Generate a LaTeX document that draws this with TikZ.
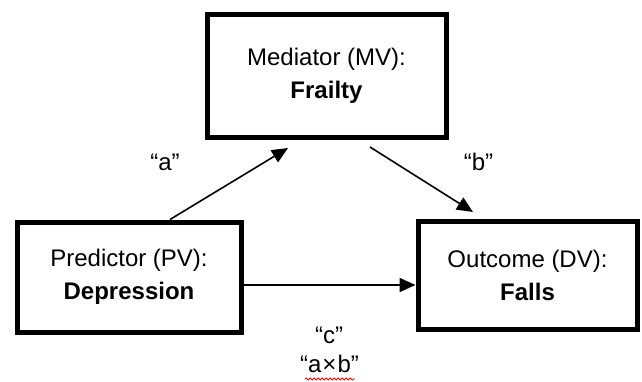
\documentclass[tikz,border=0pt]{standalone}
\usepackage{fontspec}
\setmainfont{Liberation Sans}
\usetikzlibrary{positioning,arrows.meta,decorations.pathmorphing}
\begin{document}
\begin{tikzpicture}[x=1pt, y=-1pt, node distance=201.5pt]

    % Styles des noeuds
    \tikzstyle{varbox} = [rectangle, line width=5pt, draw=black, align=center, font=\fontsize{24}{33}\selectfont]
    \tikzstyle{coef} = [anchor=base, inner sep=0pt, font=\fontsize{24}{29}\selectfont]
    \tikzstyle{arrow} = [line width=1.6pt, -{Triangle[length=16pt, width=14pt]}]
    \tikzstyle{souligne} = [red, line width=0.8pt, decorate, decoration={snake, amplitude=1pt, segment length=4pt}]

    \useasboundingbox (0,0) rectangle (642,381);

    % Noeuds
    \node (mediator) [varbox, minimum width=239pt, minimum height=123pt] at (326.5,75.5) {Mediator (MV):\\ \textbf{Frailty}};
    \node (predictor) [varbox, minimum width=224pt, minimum height=110pt, below of=mediator, xshift=-197.5pt] {Predictor (PV):\\ \textbf{Depression}};
    \node (outcome) [varbox, minimum width=219pt, minimum height=108pt, below of=mediator, xshift=201pt, yshift=2pt] {Outcome (DV):\\ \textbf{Falls}};

    % Flèches
    \draw [arrow, shorten >=16.4pt] ([xshift=41pt]predictor.north) -- ([xshift=-24.5pt]mediator.south);
    \draw [arrow, shorten <=14pt, shorten >=12.2pt] ([xshift=31.6pt]mediator.south) -- ([xshift=-44.2pt]outcome.north);
    \draw [arrow] ([yshift=-8pt]predictor.east) -- ([yshift=-8pt]predictor.east -| outcome.west);

    % Annotations
    \node (a) [coef] at (165,170) {“a”};
    \node (b) [coef] at (478.5,170) {“b”};
    \node (c) [coef] at (329,343) {“c”};
    \node (axb) [coef] at (329.5,372) {“a\hspace{1pt}×\hspace{1pt}b”};
    \draw [souligne] ([xshift=-24.5pt, yshift=-7pt]axb.base) -- ([xshift=25.5pt, yshift=-7pt]axb.base);

\end{tikzpicture}
\end{document}
